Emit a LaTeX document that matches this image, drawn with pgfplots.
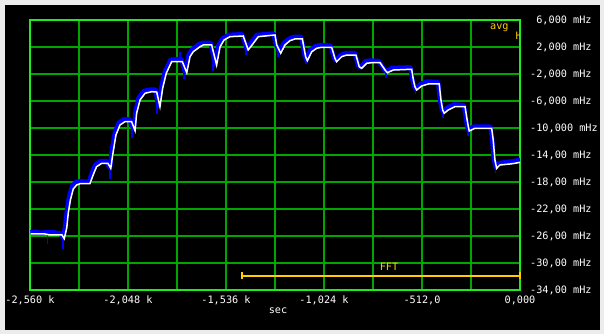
\documentclass[border=0pt]{standalone}
\usepackage{pgfplots}
\pgfplotsset{compat=1.18}
\usepackage{fontspec}
\setmonofont{DejaVu Sans Mono}
\definecolor{bggray}{RGB}{236,236,236}
\definecolor{framegreen}{RGB}{30,235,30}
\definecolor{gridgreen}{RGB}{0,165,0}
\definecolor{yel}{RGB}{255,205,0}
\definecolor{trace}{RGB}{0,0,255}
\newcommand{\lab}{\fontsize{10.2}{12}\ttfamily}
\begin{document}
\begin{tikzpicture}[x=1pt,y=1pt]
\path[use as bounding box] (0,0) rectangle (604,334);
\fill[bggray] (0,0) rectangle (604,334);
\fill[black] (5,4.3) rectangle (600,329.3);
\begin{axis}[
  at={(30pt,44pt)}, anchor=south west,
  scale only axis, width=490pt, height=270pt,
  xmin=-2560, xmax=0, ymin=-34, ymax=6,
  xtick={-2560,-2304,-2048,-1792,-1536,-1280,-1024,-768,-512,-256,0},
  xticklabels={{-2,560 k},{},{-2,048 k},{},{-1,536 k},{},{-1,024 k},{},{-512,0},{},{0,000}},
  ytick={-34,-30,-26,-22,-18,-14,-10,-6,-2,2,6},
  yticklabels={{-34,00 mHz},{-30,00 mHz},{-26,00 mHz},{-22,00 mHz},{-18,00 mHz},{-14,00 mHz},{-10,000 mHz},{-6,000 mHz},{-2,000 mHz},{\phantom{-}2,000 mHz},{\phantom{-}6,000 mHz}},
  yticklabel pos=right,
  grid=major,
  grid style={draw=gridgreen, line width=1.1pt},
  major grid style={draw=gridgreen, line width=1.1pt},
  axis line style={draw=framegreen, line width=1.4pt},
  major tick length=0pt,
  tick style={draw=none},
  xticklabel style={font=\lab, text=white, anchor=base, inner sep=0pt, yshift=-14pt},
  yticklabel style={font=\lab, text=white, anchor=base west, inner sep=0pt, xshift=10pt, yshift=-3.7pt},
  unbounded coords=jump,
]
\addplot[trace, line width=4.4pt, line join=round] coordinates {
(-2558,-25.45) (-2530,-25.35) (-2500,-25.55) (-2481,-25.4) (-2440,-25.45) (-2400,-25.6)
(-2390,-26.2) (-2384,-25.9) (-2375,-24.2) (-2366,-22.0)
(-2356,-20.2) (-2340,-18.6) (-2320,-18.0) (-2300,-17.9) (-2250,-17.95) (-2244,-17.2) (-2232,-16.3)
(-2218,-15.4) (-2190,-14.9) (-2160,-14.9) (-2146,-15.8) (-2140,-15.6) (-2134,-13.5)
(-2117,-10.7) (-2096,-9.2) (-2070,-8.7) (-2040,-8.7) (-2030,-9.6) (-2018,-10.1)
(-2008,-7.4) (-1992,-5.5) (-1965,-4.5) (-1930,-4.3) (-1905,-4.3) (-1890,-6.7)
(-1873,-3.8) (-1855,-1.6) (-1826,0.1) (-1800,0.2) (-1770,0.2)
(-1750,-1.7) (-1731,0.9) (-1714,1.6) (-1679,2.4) (-1660,2.6)
(-1616,2.6) (-1594,-0.6) (-1575,2.3) (-1553,3.3) (-1522,3.8)
(-1452,3.9) (-1428,1.7) (-1400,2.9) (-1374,3.8) (-1287,4.0)
(-1278,2.6) (-1257,1.3) (-1234,2.6) (-1208,3.2) (-1182,3.5) (-1143,3.5)
(-1126,0.8) (-1116,0.1) (-1095,1.6) (-1069,2.1) (-1043,2.3) (-990,2.2) (-973,0.5)
(-964,0.0) (-938,0.8) (-912,1.1) (-863,1.1) (-846,-0.7) (-834,-1.0) (-808,-0.1)
(-781,0.0) (-738,-0.1) (-712,-1.2) (-700,-1.6) (-669,-1.1) (-572,-1.0) (-564,-2.6)
(-555,-3.6) (-546,-4.2) (-520,-3.5) (-486,-3.1) (-428,-3.2) (-419,-5.6) (-410,-7.1)
(-402,-7.6) (-381,-7.0) (-346,-6.5) (-294,-6.6) (-285,-8.1) (-277,-9.6) (-271,-10.2)
(-242,-9.8) (-155,-9.8) (-146,-11.5) (-137,-14.5) (-128,-15.8) (-111,-15.2) (-59,-15.0)
(-33,-14.9) (0,-14.7)
};
\addplot[trace, line width=1.6pt] coordinates {
(-2469,-25.4) (-2469,-27.2) (nan,nan)
(-2388,-25.8) (-2388,-27.9) (nan,nan)
(-2143,-15.6) (-2143,-17.6) (nan,nan)
(-2027,-9.8) (-2027,-11.5) (nan,nan)
(-1896,-6.0) (-1896,-8.0) (nan,nan)
(-1776,0.0) (-1776,1.2) (nan,nan)
(-1755,-1.0) (-1755,-2.7) (nan,nan)
(-1603,-0.4) (-1603,-1.6) (nan,nan)
(-1431,1.5) (-1431,0.8) (nan,nan)
(-1264,1.4) (-1264,0.5) (nan,nan)
(-1118,0.2) (-1118,-0.5) (nan,nan)
(-700,-1.6) (-700,-2.6) (nan,nan)
(-546,-4.2) (-546,-5.0) (nan,nan)
(-402,-7.6) (-402,-8.5) (nan,nan)
(-271,-10.2) (-271,-11.2) (nan,nan)
(-128,-15.8) (-128,-16.7)
};
\addplot[white, line width=1.5pt] coordinates {
(-2555,-25.70) (-2482,-25.70) (-2456,-25.85) (-2393,-25.85) (-2381,-26.40) (-2368,-24.81)
(-2360,-22.59) (-2349,-20.67) (-2334,-19.04) (-2316,-18.44) (-2299,-18.25) (-2247,-18.25)
(-2238,-17.56) (-2226,-16.67) (-2212,-15.73) (-2185,-15.23) (-2153,-15.23) (-2138,-15.97)
(-2128,-14.00) (-2111,-11.04) (-2090,-9.56) (-2064,-9.07) (-2029,-9.07) (-2011,-10.40)
(-2003,-7.82) (-1985,-5.85) (-1959,-4.86) (-1924,-4.62) (-1898,-4.67) (-1881,-6.84)
(-1867,-4.12) (-1848,-1.90) (-1820,-0.18) (-1794,-0.18) (-1764,-0.18) (-1741,-1.81)
(-1724,0.56) (-1707,1.30) (-1672,2.04) (-1655,2.30) (-1611,2.30) (-1585,-0.67)
(-1567,2.04) (-1546,3.04) (-1515,3.53) (-1446,3.63) (-1420,1.56) (-1393,2.55)
(-1367,3.53) (-1280,3.78) (-1271,2.30) (-1250,1.07) (-1228,2.30) (-1202,2.93)
(-1176,3.19) (-1137,3.19) (-1120,0.56) (-1111,-0.03) (-1088,1.30) (-1062,1.81)
(-1036,1.96) (-984,1.96) (-967,0.33) (-958,-0.18) (-932,0.56) (-905,0.81)
(-857,0.81) (-840,-0.92) (-827,-1.16) (-801,-0.41) (-775,-0.33) (-731,-0.33)
(-705,-1.41) (-693,-1.81) (-662,-1.41) (-566,-1.30) (-557,-2.89) (-549,-3.88)
(-540,-4.37) (-514,-3.78) (-479,-3.48) (-422,-3.48) (-413,-5.85) (-404,-7.33)
(-396,-7.82) (-375,-7.33) (-340,-6.84) (-287,-6.84) (-279,-8.33) (-270,-9.81)
(-265,-10.44) (-235,-10.04) (-148,-10.04) (-140,-11.78) (-131,-14.74) (-122,-15.97)
(-105,-15.48) (-52,-15.33) (-26,-15.23) (0,-15.08)
};
\end{axis}
% FFT span marker
\draw[yel, line width=1.2pt] (242,58) -- (520,58);
\draw[yel, line width=1.2pt] (242,54.5) -- (242,61.5);
\draw[yel, line width=1.2pt] (520,54.5) -- (520,61.5);
\node[anchor=base, inner sep=0pt, text=yel, font=\lab] at (389,63) {FFT};
\node[anchor=base west, inner sep=0pt, text=yel, font=\lab] at (490,304.5) {avg};
\begin{scope}
\clip (510,285) rectangle (519.5,310);
\node[anchor=base west, inner sep=0pt, text=yel, font=\lab] at (515.3,294) {H};
\end{scope}
\node[anchor=base, inner sep=0pt, text=white, font=\lab] at (278,20) {sec};
\end{tikzpicture}
\end{document}
